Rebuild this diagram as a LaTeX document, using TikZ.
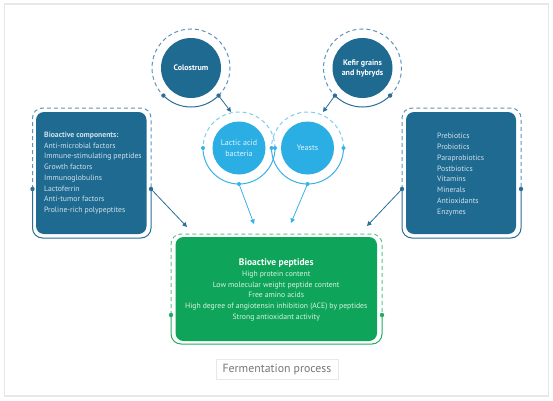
\documentclass[tikz,border=0pt]{standalone}
\usepackage{fontspec}
\setmainfont{PT Sans}
\usetikzlibrary{arrows.meta}
\definecolor{dblue}{HTML}{1E6A91}
\definecolor{dring}{HTML}{2B6F96}
\definecolor{ddash}{HTML}{5E95BA}
\definecolor{lblue}{HTML}{2AAEE4}
\definecolor{lring}{HTML}{38B2E6}
\definecolor{ldash}{HTML}{7FCDEF}
\definecolor{gfill}{HTML}{0EA55A}
\definecolor{gring}{HTML}{22AD63}
\definecolor{gdash}{HTML}{5CC48B}
\definecolor{dtext}{HTML}{D3E2EC}
\definecolor{ltext}{HTML}{E4F5FC}
\definecolor{gtext}{HTML}{DCF2E5}
\definecolor{framegray}{HTML}{E8E8E8}
\definecolor{fgray}{HTML}{777777}
\begin{document}
\begin{tikzpicture}[x=1pt,y=1pt,
  darkcirc/.style={circle,fill=dblue,minimum size=60pt,inner sep=0pt,text=white,font=\fontsize{8}{10}\selectfont\bfseries,align=center},
  lightcirc/.style={circle,fill=lblue,minimum size=53pt,inner sep=0pt,text=ltext,font=\fontsize{8}{11}\selectfont,align=center},
  darkbox/.style={rectangle,rounded corners=8pt,fill=dblue,inner sep=0pt},
  greenbox/.style={rectangle,rounded corners=8pt,fill=gfill,inner sep=0pt},
  boxtext/.style={text=dtext,font=\fontsize{7.7}{10.75}\selectfont,align=left,inner sep=0pt},
  dashring/.style={dash pattern=on 4pt off 3pt,line width=1pt},
  solidring/.style={line width=1pt},
  arrowd/.style={-{Triangle[length=4.5pt,width=4.5pt]},line width=0.8pt},
]
\useasboundingbox (0,0) rectangle (553,400);
\fill[white] (0,0) rectangle (553,400);
\draw[framegray,line width=1.5pt,fill=white] (4.5,4) rectangle (548.5,396);

% top dark circles
\node[darkcirc] (colo) at (191,332) {Colostrum};
\node[darkcirc] (kefir) at (362.5,332) {Kefir grains\\and hybryds};
\draw[ddash,dashring] ([shift={(-45:39)}]colo.center) arc[start angle=-45,end angle=225,radius=39];
\draw[dring,solidring] ([shift={(225:39)}]colo.center) arc[start angle=225,end angle=315,radius=39];
\draw[ddash,dashring] ([shift={(-45:39)}]kefir.center) arc[start angle=-45,end angle=225,radius=39];
\draw[dring,solidring] ([shift={(225:39)}]kefir.center) arc[start angle=225,end angle=315,radius=39];
\coordinate (coloL) at ([shift={(225:39)}]colo.center);
\coordinate (coloR) at ([shift={(-45:39)}]colo.center);
\coordinate (kefL) at ([shift={(225:39)}]kefir.center);
\coordinate (kefR) at ([shift={(-45:39)}]kefir.center);
\foreach \p in {coloL,coloR,kefL,kefR} \fill[dring] (\p) circle (2.2pt);

% light circles
\node[lightcirc] (lab) at (239,252) {Lactic acid\\bacteria};
\node[lightcirc] (yeast) at (307.5,252) {Yeasts};
\foreach \c in {lab,yeast}{
  \draw[ldash,dashring] ([shift={(0:36)}]\c.center) arc[start angle=0,end angle=180,radius=36];
  \draw[lring,solidring] ([shift={(180:36)}]\c.center) arc[start angle=180,end angle=360,radius=36];
}
\coordinate (labL) at ([shift={(180:36)}]lab.center);
\coordinate (labR) at ([shift={(0:36)}]lab.center);
\coordinate (labB) at ([shift={(270:36)}]lab.center);
\coordinate (yeaL) at ([shift={(180:36)}]yeast.center);
\coordinate (yeaR) at ([shift={(0:36)}]yeast.center);
\coordinate (yeaB) at ([shift={(270:36)}]yeast.center);
\foreach \p in {labL,labR,labB,yeaL,yeaR,yeaB} \fill[lring] (\p) circle (2pt);

% left box
\node[darkbox,minimum width=110.5pt,minimum height=122pt] (leftbox) at (91.25,227) {};
\draw[ddash,dashring,rounded corners=10pt] (32.5,211) |- (151,292) -- (151,211);
\draw[dring,solidring,rounded corners=10pt] (151,211) |- (32.5,162) -- (32.5,211);
\coordinate (leftL) at (32.5,211);
\coordinate (leftR) at (151,211);
\fill[dring] (leftL) circle (2.2pt);
\fill[dring] (leftR) circle (2.2pt);
\node[boxtext,anchor=west] (lefttext) at (44,227) {\textbf{Bioactive components:}\\Anti-microbial factors\\Immune-stimulating peptides\\Growth factors\\Immunoglobulins\\Lactoferrin\\Anti-tumor factors\\Proline-rich polypeptites};

% right box
\node[darkbox,minimum width=110pt,minimum height=122pt] (rightbox) at (461,227) {};
\draw[ddash,dashring,rounded corners=10pt] (402,211) |- (521,292) -- (521,211);
\draw[dring,solidring,rounded corners=10pt] (521,211) |- (402,162) -- (402,211);
\coordinate (rightL) at (402,211);
\coordinate (rightR) at (521,211);
\fill[dring] (rightL) circle (2.2pt);
\fill[dring] (rightR) circle (2.2pt);
\node[boxtext,anchor=west] (righttext) at (437,225.5) {Prebiotics\\Probiotics\\Paraprobiotics\\Postbiotics\\Vitamins\\Minerals\\Antioxidants\\Enzymes};

% green box
\node[greenbox,minimum width=201.5pt,minimum height=104pt] (green) at (276.25,111) {};
\draw[gdash,dashring,rounded corners=10pt] (171,85) |- (382,166) -- (382,85);
\draw[gring,solidring,rounded corners=10pt] (382,85) |- (171,56) -- (171,85);
\coordinate (greenL) at (171,85);
\coordinate (greenR) at (382,85);
\fill[gring] (greenL) circle (2.2pt);
\fill[gring] (greenR) circle (2.2pt);
\node[boxtext,text=gtext,align=center] (greentext) at (276.25,110) {{\fontsize{9.5}{11}\selectfont\textbf{\color{white}Bioactive peptides}}\\High protein content\\Low molecular weight peptide content\\Free amino acids\\High degree of angiotensin inhibition (ACE) by peptides\\Strong antioxidant activity};

% arrow targets
\coordinate (tColo) at (231,288);
\coordinate (tKef) at (323,288);
\coordinate (tLab) at (254,176);
\coordinate (tYea) at (291,177);
\coordinate (tLeft) at (187,173);
\coordinate (tRight) at (367,174);
\draw[arrowd,dring] (coloR) -- (tColo);
\draw[arrowd,dring] (kefL) -- (tKef);
\draw[arrowd,lring] (labB) -- (tLab);
\draw[arrowd,lring] (yeaB) -- (tYea);
\draw[arrowd,dring] (leftR) -- (tLeft);
\draw[arrowd,dring] (rightL) -- (tRight);

% fermentation label
\node[draw=framegray,line width=0.8pt,minimum width=122pt,minimum height=20pt,inner sep=0pt,text=fgray,font=\fontsize{11.8}{13}\selectfont] (ferm) at (277,31) {Fermentation process};
\end{tikzpicture}
\end{document}
